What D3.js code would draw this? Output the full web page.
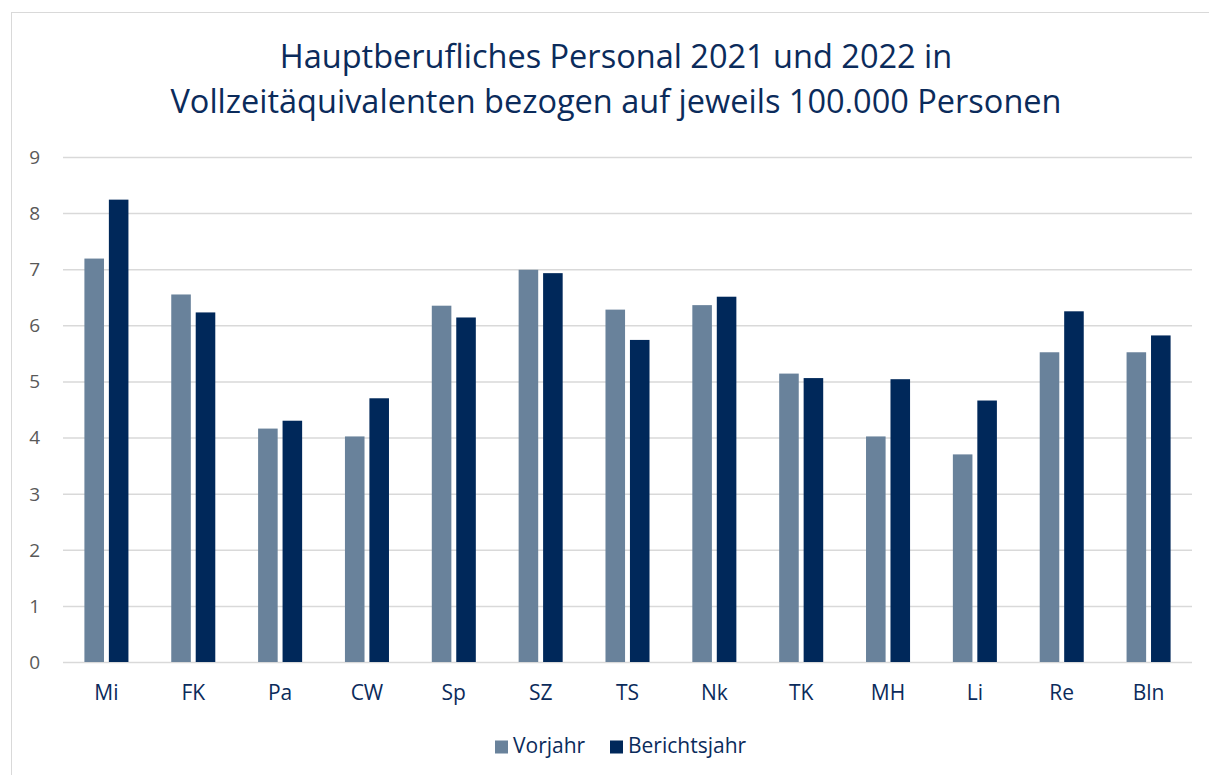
<!DOCTYPE html>
<html>
<head>
<meta charset="utf-8">
<script src="https://cdn.jsdelivr.net/npm/d3@7"></script>
<style>
  body { margin: 0; background: #fff; }
  svg { display: block; font-family: "Open Sans", sans-serif; }
  .grid line { stroke: #d9d9d9; stroke-width: 1.5; }
  .grid .domain { display: none; }
</style>
</head>
<body>
<div class="panel"></div>
<script>
const width = 1209;
const height = 775;
const margins = {top: 157, right: 17, bottom: 113, left: 63};

const categories = ["Mi", "FK", "Pa", "CW", "Sp", "SZ", "TS", "Nk", "TK", "MH", "Li", "Re", "Bln"];
const seriesNames = ["Vorjahr", "Berichtsjahr"];
const vorjahr = [7.19, 6.55, 4.16, 4.02, 6.35, 6.99, 6.28, 6.36, 5.14, 4.02, 3.70, 5.52, 5.52];
const berichtsjahr = [8.24, 6.23, 4.30, 4.70, 6.14, 6.93, 5.74, 6.51, 5.06, 5.04, 4.66, 6.25, 5.82];
const yTicks = [0, 1, 2, 3, 4, 5, 6, 7, 8, 9];
const titleLines = ["Hauptberufliches Personal 2021 und 2022 in", "Vollzeitäquivalenten bezogen auf jeweils 100.000 Personen"];

const colours = ["#69829b", "#00285a"];
const textBlue = "#0b2b5b";

drawChart();

function drawChart(){
  const svg = d3.select(".panel")
    .append("svg")
    .attr("width", width)
    .attr("height", height);

  // chart frame (cropped on right and bottom like the original)
  svg.append("rect")
    .attr("x", 11.5)
    .attr("y", 12.5)
    .attr("width", width + 20)
    .attr("height", height + 20)
    .attr("fill", "none")
    .attr("stroke", "#d9d9d9");

  const title = svg.append("text")
    .attr("text-anchor", "middle")
    .attr("fill", textBlue)
    .style("font-size", "32.5px");
  title.selectAll("tspan")
    .data(titleLines)
    .enter()
    .append("tspan")
    .attr("x", 616)
    .attr("y", (d, i) => 68 + i * 45)
    .text(d => d);

  const x0 = d3.scaleBand()
    .domain(categories)
    .range([margins.left, width - margins.right])
    .paddingInner(0.493)
    .paddingOuter(0.2465);

  const x1 = d3.scaleBand()
    .domain(seriesNames)
    .range([0, x0.bandwidth()])
    .paddingInner(0.2);

  const y = d3.scaleLinear()
    .domain([0, 9])
    .range([height - margins.bottom, margins.top]);

  svg.append("g")
    .attr("class", "grid")
    .attr("transform", `translate(${margins.left}, 0)`)
    .call(d3.axisRight(y).tickValues(yTicks).tickSize(width - margins.left - margins.right).tickFormat(""));

  svg.append("g")
    .attr("transform", `translate(${margins.left - 23}, 0)`)
    .selectAll("text")
    .data(yTicks)
    .enter()
    .append("text")
    .attr("y", d => y(d))
    .attr("dy", "0.36em")
    .attr("text-anchor", "end")
    .attr("fill", "#595959")
    .style("font-size", "19px")
    .text(d => d);

  const rows = categories.map((c, i) => ({cat: c, values: [vorjahr[i], berichtsjahr[i]]}));

  const groups = svg.append("g")
    .selectAll("g")
    .data(rows)
    .enter()
    .append("g")
    .attr("transform", d => `translate(${x0(d.cat)}, 0)`);

  groups.selectAll("rect")
    .data(d => d.values.map((v, j) => ({series: seriesNames[j], value: v, j: j})))
    .enter()
    .append("rect")
    .attr("x", d => x1(d.series))
    .attr("y", d => y(d.value))
    .attr("width", x1.bandwidth())
    .attr("height", d => y(0) - y(d.value))
    .attr("fill", d => colours[d.j]);

  svg.append("g")
    .selectAll("text")
    .data(categories)
    .enter()
    .append("text")
    .attr("x", d => x0(d) + x0.bandwidth() / 2)
    .attr("y", 700)
    .attr("text-anchor", "middle")
    .attr("fill", textBlue)
    .style("font-size", "21px")
    .text(d => d);

  generateLegend(svg);
}

function generateLegend(svg){
  const legendX = [495, 610];
  const legend = svg.append("g").attr("id", "legend");
  seriesNames.forEach((name, i) => {
    legend.append("rect")
      .attr("x", legendX[i])
      .attr("y", 740.5)
      .attr("width", 13)
      .attr("height", 13)
      .attr("fill", colours[i]);
    legend.append("text")
      .attr("x", legendX[i] + 18)
      .attr("y", 753)
      .attr("fill", textBlue)
      .style("font-size", "21px")
      .text(name);
  });
}
</script>
</body>
</html>
